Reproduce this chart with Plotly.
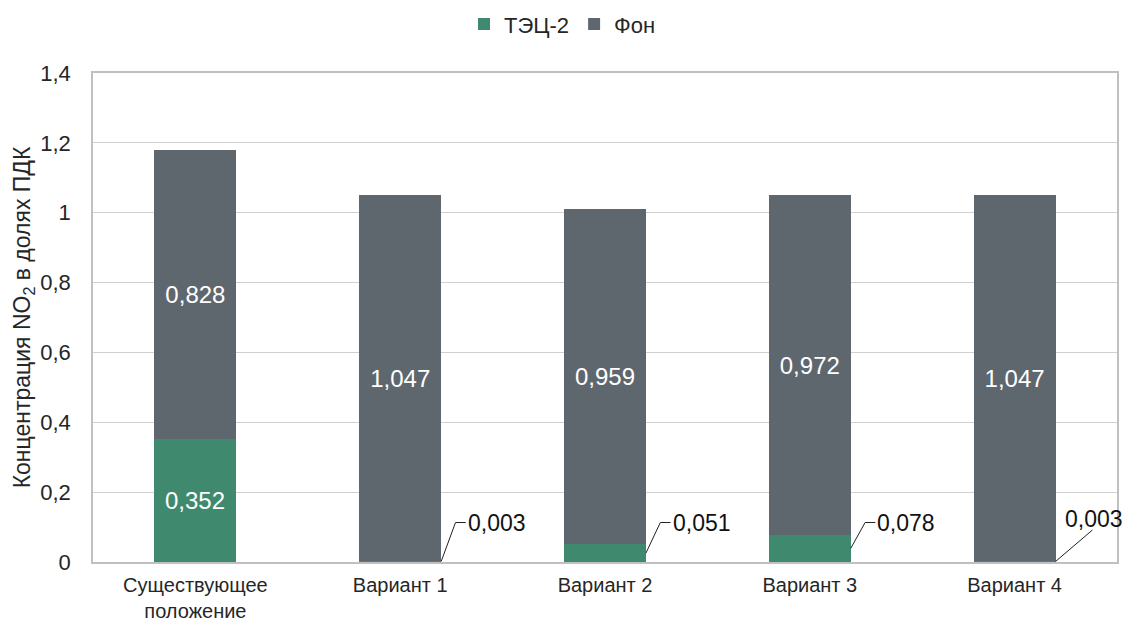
import plotly.graph_objects as go

categories = ["Существующее<br>положение", "Вариант 1", "Вариант 2", "Вариант 3", "Вариант 4"]
tets2 = [0.352, 0.003, 0.051, 0.078, 0.003]
fon = [0.828, 1.047, 0.959, 0.972, 1.047]
y_ticks = [0, 0.2, 0.4, 0.6, 0.8, 1.0, 1.2, 1.4]

GREEN = "#3f8a6e"
GRAY = "#5f676e"
FONT = "Liberation Sans, Arial, sans-serif"
BAR_W = 0.4
HALF = BAR_W / 2

x = list(range(len(categories)))


def fmt(v):
    return f"{v:.3f}".replace(".", ",")


fig = go.Figure()

fig.add_trace(go.Bar(
    name="ТЭЦ-2", x=x, y=tets2, width=BAR_W, marker=dict(color=GREEN, line=dict(width=0)),
))
fig.add_trace(go.Bar(
    name="Фон", x=x, y=fon, width=BAR_W, marker=dict(color=GRAY, line=dict(width=0)),
    text=[fmt(v) for v in fon], textposition="inside", insidetextanchor="middle",
    textfont=dict(color="white", size=24, family=FONT),
))

# green labels: inside the segment when it is tall enough, otherwise a callout
LABEL_Y = 0.113
for i, v in enumerate(tets2):
    if v > 0.1:
        fig.add_annotation(x=i, y=v / 2, xref="x", yref="y", text=fmt(v), showarrow=False,
                           font=dict(size=24, color="white", family=FONT))
        continue
    if i == len(tets2) - 1:
        # last bar: straight slanted leader, label above it
        lx = [i + HALF, i + HALF + 0.18]
        ly = [v / 2, v / 2 + 0.09]
        fig.add_annotation(x=i + HALF, y=0.123, xref="x", yref="y", text=fmt(v),
                           showarrow=False, xanchor="center", yanchor="middle", xshift=38,
                           font=dict(size=23, color="#111", family=FONT))
    else:
        lx = [i + HALF, i + HALF + 0.07, i + HALF + 0.12]
        ly = [v / 2, LABEL_Y, LABEL_Y]
        fig.add_annotation(x=i + HALF + 0.12, y=LABEL_Y, xref="x", yref="y", text=fmt(v),
                           showarrow=False, xanchor="left", yanchor="middle",
                           font=dict(size=23, color="#111", family=FONT))
    fig.add_trace(go.Scatter(x=lx, y=ly, mode="lines", showlegend=False, hoverinfo="skip",
                             line=dict(color="#222", width=1), cliponaxis=False))

fig.update_layout(
    barmode="stack",
    width=1125, height=626,
    margin=dict(l=93, r=8, t=73, b=64),
    paper_bgcolor="white", plot_bgcolor="white",
    font=dict(family=FONT, size=22, color="#262626"),
    showlegend=True,
    legend=dict(orientation="h", x=0.5, xanchor="center", xref="container",
                y=0.995, yref="container", yanchor="top",
                font=dict(size=22), traceorder="normal", itemwidth=30),
)
fig.update_xaxes(
    range=[-0.5, 4.5], tickmode="array", tickvals=x, ticktext=categories,
    showgrid=False, zeroline=False, showline=True, linecolor="#c0c0c0", linewidth=1.5,
    mirror=True, ticks="", tickfont=dict(size=20, color="#262626"), ticklabelstandoff=4,
    automargin=False,
)
fig.update_yaxes(
    range=[0, 1.4], tickmode="array", tickvals=y_ticks,
    ticktext=[f"{t:g}".replace(".", ",") for t in y_ticks],
    showgrid=True, gridcolor="#d0d0d0", gridwidth=1, zeroline=False,
    showline=True, linecolor="#c0c0c0", linewidth=1.5, mirror=True, ticks="",
    tickfont=dict(size=22, color="#262626"), ticklabelstandoff=16,
    title=dict(text="Концентрация NO<sub>2</sub> в долях ПДК", font=dict(size=23, color="#262626"),
               standoff=3),
    automargin=False,
)

fig.write_html("out.html")
